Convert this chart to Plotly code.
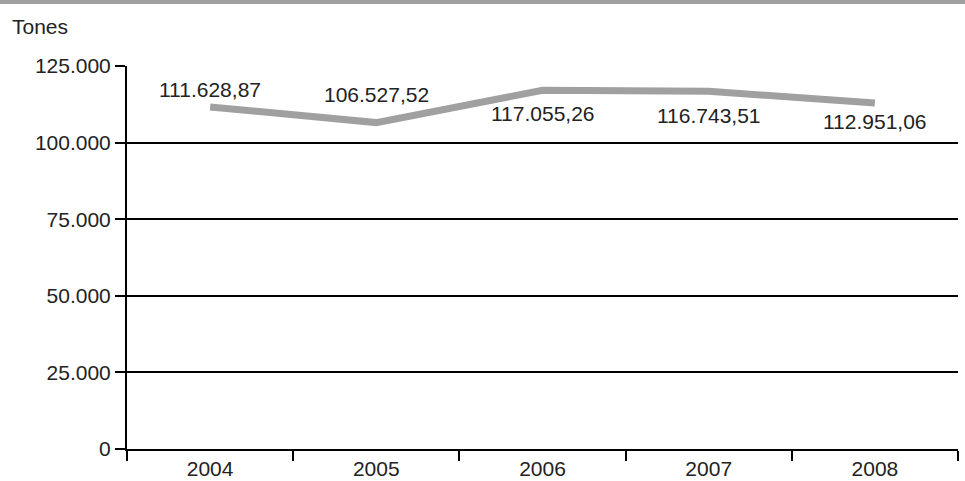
import plotly.graph_objects as go

years = ["2004", "2005", "2006", "2007", "2008"]
tonnes = [111628.87, 106527.52, 117055.26, 116743.51, 112951.06]
y_ticks = [0, 25000, 50000, 75000, 100000, 125000]

# label placement relative to each point (pixels, positive = above)
label_shift = [17, 28, -23, -24, -19]

LINE_GREY = "#a0a0a0"
FONT = dict(family="Liberation Sans, Arial, sans-serif", size=21, color="#222222")


def fmt(v):
    s = f"{v:,.2f}"
    return s.replace(",", "_").replace(".", ",").replace("_", ".")


fig = go.Figure()
fig.add_trace(go.Scatter(
    x=years, y=tonnes, mode="lines",
    line=dict(color=LINE_GREY, width=7),
    hoverinfo="skip", showlegend=False,
))

# value labels; x given as category index so "2004" is not read as a number
for i, (v, dy) in enumerate(zip(tonnes, label_shift)):
    fig.add_annotation(
        x=i, y=v, xref="x", yref="y", text=fmt(v), showarrow=False,
        yshift=dy, font=FONT,
    )

# grey rule across the top of the page
fig.add_shape(type="rect", xref="paper", yref="paper",
              x0=-0.2, x1=1.2, y0=1.162, y1=1.18,
              fillcolor=LINE_GREY, line=dict(width=0), layer="above")

fig.add_annotation(text="Tones", xref="paper", yref="paper",
                   x=-0.1408, y=1.102, xanchor="left", yanchor="middle",
                   showarrow=False, font=FONT)

fig.update_layout(
    width=965, height=481,
    margin=dict(l=127, r=7, t=66, b=32),
    paper_bgcolor="white", plot_bgcolor="white",
    separators=",.",
    font=FONT,
    xaxis=dict(
        type="category", range=[-0.5, 4.5], tickson="boundaries",
        ticks="outside", ticklen=10, tickwidth=2, tickcolor="black",
        showline=True, linecolor="black", linewidth=2,
        showgrid=False, tickfont=FONT, fixedrange=True, tickangle=0,
        automargin=False,
    ),
    yaxis=dict(
        range=[0, 125000], tickvals=y_ticks, tickformat=",d",
        ticks="outside", ticklen=10, tickwidth=2, tickcolor="black",
        showline=True, linecolor="black", linewidth=2,
        showgrid=True, gridcolor="black", gridwidth=2,
        zeroline=False, tickfont=FONT, fixedrange=True,
        automargin=False,
    ),
)

fig.write_html("out.html")
